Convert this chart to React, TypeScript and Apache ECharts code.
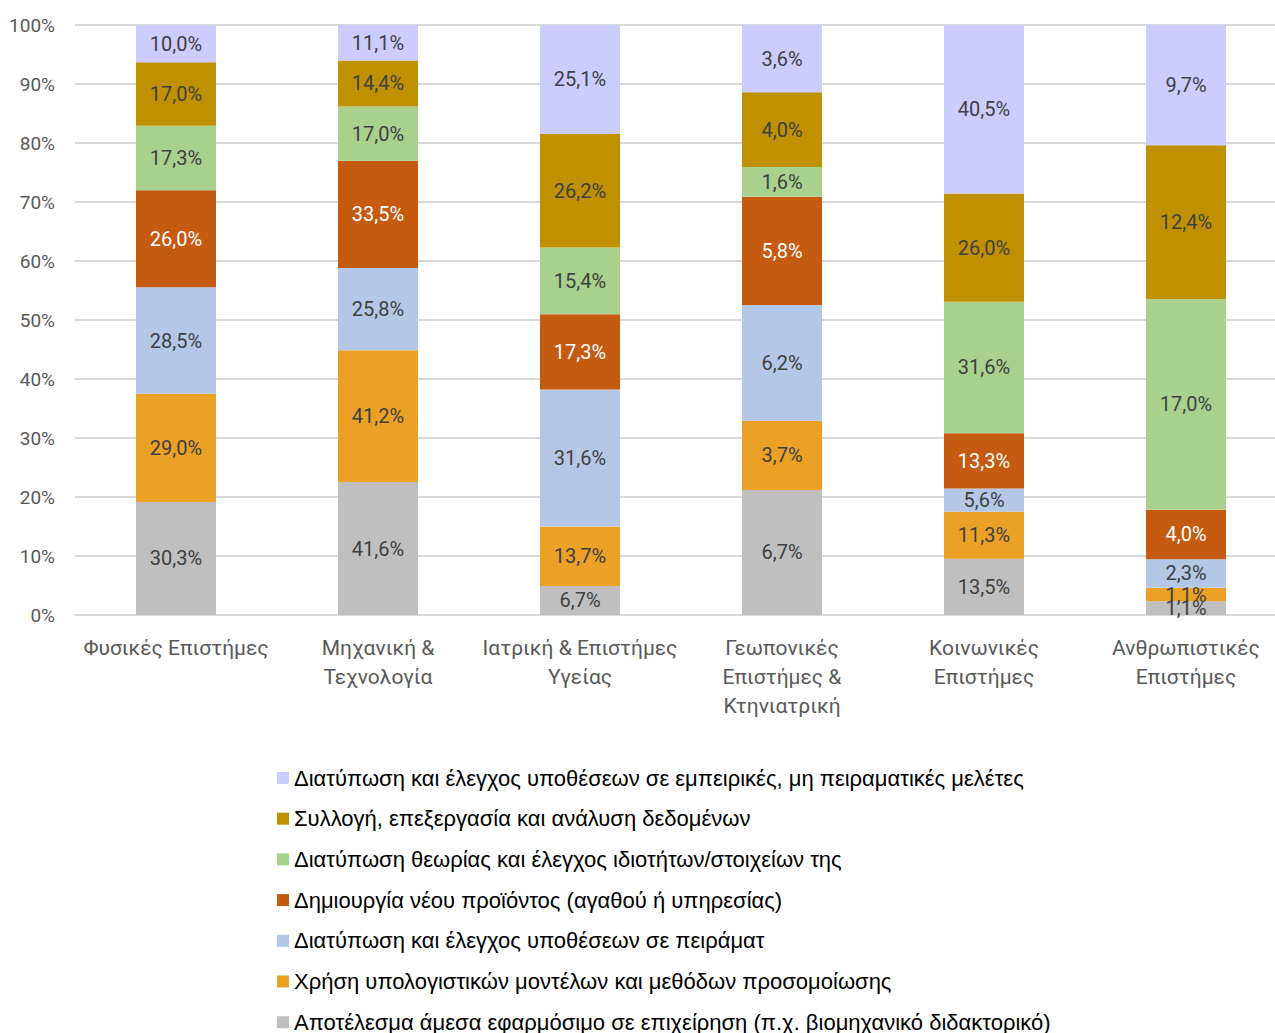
import React, { useEffect, useRef } from "react";
import * as echarts from "echarts";

const categories = [
  "Φυσικές Επιστήμες",
  "Μηχανική &\nΤεχνολογία",
  "Ιατρική & Επιστήμες\nΥγείας",
  "Γεωπονικές\nΕπιστήμες &\nΚτηνιατρική",
  "Κοινωνικές\nΕπιστήμες",
  "Ανθρωπιστικές\nΕπιστήμες",
];

// bottom to top
const seriesNames = [
  "Αποτέλεσμα άμεσα εφαρμόσιμο σε επιχείρηση (π.χ. βιομηχανικό διδακτορικό)",
  "Χρήση υπολογιστικών μοντέλων και μεθόδων προσομοίωσης",
  "Διατύπωση και έλεγχος υποθέσεων σε πειράματ",
  "Δημιουργία νέου προϊόντος (αγαθού ή υπηρεσίας)",
  "Διατύπωση θεωρίας και έλεγχος ιδιοτήτων/στοιχείων της",
  "Συλλογή, επεξεργασία και ανάλυση δεδομένων",
  "Διατύπωση και έλεγχος υποθέσεων σε εμπειρικές, μη πειραματικές μελέτες",
];

const applied = [30.3, 41.6, 6.7, 6.7, 13.5, 1.1];
const computational = [29.0, 41.2, 13.7, 3.7, 11.3, 1.1];
const experiments = [28.5, 25.8, 31.6, 6.2, 5.6, 2.3];
const newProduct = [26.0, 33.5, 17.3, 5.8, 13.3, 4.0];
const theory = [17.3, 17.0, 15.4, 1.6, 31.6, 17.0];
const dataAnalysis = [17.0, 14.4, 26.2, 4.0, 26.0, 12.4];
const empirical = [10.0, 11.1, 25.1, 3.6, 40.5, 9.7];

const yTicks = [0, 10, 20, 30, 40, 50, 60, 70, 80, 90, 100];

const colors = ["#BFBFBF", "#EAA126", "#B4C7E7", "#C55A11", "#A9D18E", "#BF9000", "#CCCCFF"];
const labelColors = ["#404040", "#404040", "#404040", "#FFFFFF", "#404040", "#404040", "#404040"];

export default function App() {
  const ref = useRef<HTMLDivElement>(null);
  useEffect(() => {
    if (!ref.current) return;
    const chart = echarts.init(ref.current, undefined, { renderer: "svg" });
    const raw = [applied, computational, experiments, newProduct, theory, dataAnalysis, empirical];
    const sums = categories.map((_, i) => raw.reduce((s, arr) => s + arr[i], 0));
    const numFont = "Roboto, 'DejaVu Sans', sans-serif";
    const series = raw.map((arr, si) => ({
      name: seriesNames[si],
      type: "bar",
      stack: "total",
      barWidth: 80,
      itemStyle: { color: colors[si] },
      label: {
        show: true,
        position: "inside",
        color: labelColors[si],
        fontFamily: numFont,
        fontSize: 20,
        formatter: (p: any) => arr[p.dataIndex].toFixed(1).replace(".", ",") + "%",
      },
      data: arr.map((v, i) => (v / sums[i]) * 100),
    }));
    chart.setOption({
      animation: false,
      grid: {
        left: 75,
        top: 25,
        width: 1212,
        height: 590,
        containLabel: false,
        outerBoundsMode: "none",
      },
      legend: {
        orient: "vertical",
        left: 272,
        top: 762,
        height: 300,
        itemWidth: 12,
        itemHeight: 12,
        itemGap: 18.7,
        icon: "rect",
        data: [...seriesNames].reverse(),
        textStyle: { fontFamily: "'Liberation Sans', Arial, sans-serif", fontSize: 22, color: "#000" },
        selectedMode: false,
      },
      xAxis: {
        type: "category",
        data: categories,
        axisTick: { show: false },
        axisLine: { lineStyle: { color: "#D9D9D9", width: 2 } },
        axisLabel: {
          color: "#595959",
          fontFamily: numFont,
          fontSize: 21,
          lineHeight: 29,
          margin: 18,
          interval: 0,
        },
      },
      yAxis: {
        type: "value",
        min: 0,
        max: 100,
        interval: 10,
        axisLine: { show: false },
        axisTick: { show: false },
        splitLine: { lineStyle: { color: "#D9D9D9", width: 2 } },
        axisLabel: {
          color: "#595959",
          fontFamily: numFont,
          fontSize: 19,
          margin: 20,
          formatter: (v: number) => (yTicks.includes(v) ? v + "%" : ""),
        },
      },
      series,
    });
    return () => chart.dispose();
  }, []);
  return (
    <div
      ref={ref}
      style={{ position: "absolute", left: 0, top: 0, width: 1275, height: 1033, background: "#fff" }}
    />
  );
}
